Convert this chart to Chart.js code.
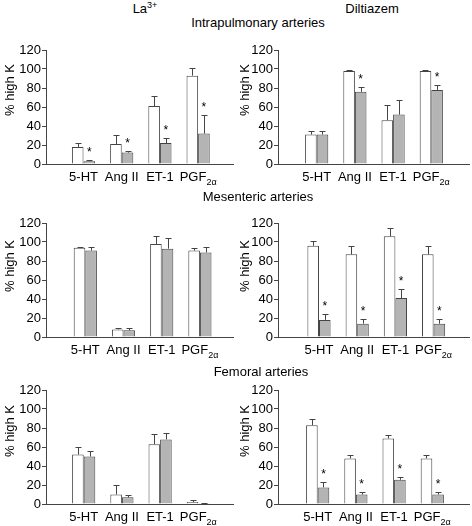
<!DOCTYPE html>
<html>
<head>
<meta charset="utf-8">
<script src="https://cdn.jsdelivr.net/npm/chart.js@4.4.0/dist/chart.umd.min.js"></script>
<style>
  body { margin: 0; background: #fff; }
  #page { position: relative; width: 472px; height: 526px; font-family: "Liberation Sans", Arial, sans-serif; color: #000; overflow: hidden; }
  .panel { position: absolute; }
  .txt { position: absolute; white-space: nowrap; font-size: 13px; line-height: 13px; transform: translateX(-50%); }
  .ylab { position: absolute; white-space: nowrap; font-size: 13px; line-height: 13px; transform: translate(-50%, -50%) rotate(-90deg); }
  .sup { font-size: 9px; position: relative; top: -5px; }
</style>
</head>
<body>
<div id="page"></div>

<script>
const categories = ["5-HT", "Ang II", "ET-1", "PGF"];
const categorySubs = ["", "", "", "2α"];

// Intrapulmonary arteries - La3+
const pulmLaControl = [18, 21, 61, 93];
const pulmLaControlErr = [4, 10, 11, 8];
const pulmLaDrug = [3, 12, 22, 32];
const pulmLaDrugErr = [1, 2, 5, 20];
const pulmLaSig = [true, true, true, true];

// Intrapulmonary arteries - Diltiazem
const pulmDilControl = [31, 98, 46, 98];
const pulmDilControlErr = [4, 0.5, 16, 0.5];
const pulmDilDrug = [31, 76, 52, 78];
const pulmDilDrugErr = [4, 5, 15, 5];
const pulmDilSig = [false, true, false, true];

// Mesenteric arteries - La3+
const mesLaControl = [94, 8, 98, 91];
const mesLaControlErr = [0.5, 2, 8, 2.5];
const mesLaDrug = [91, 7, 93, 89];
const mesLaDrugErr = [4, 2, 11, 6];
const mesLaSig = [false, false, false, false];

// Mesenteric arteries - Diltiazem
const mesDilControl = [96, 87, 106, 87];
const mesDilControlErr = [5, 9, 9, 9];
const mesDilDrug = [18, 14, 41, 14];
const mesDilDrugErr = [6, 5, 10, 5];
const mesDilSig = [true, true, true, true];

// Femoral arteries - La3+
const femLaControl = [52, 10, 63, 2];
const femLaControlErr = [8, 10, 11, 2.5];
const femLaDrug = [50, 7, 68, 0.7];
const femLaDrugErr = [6, 2, 7, 0.3];
const femLaSig = [false, false, false, false];

// Femoral arteries - Diltiazem
const femDilControl = [83, 48, 69, 48];
const femDilControlErr = [7, 4, 3.5, 4];
const femDilDrug = [17.5, 10, 25.5, 10];
const femDilDrugErr = [6, 3, 3, 3];
const femDilSig = [true, true, true, true];

const FONT = '"Liberation Sans", Arial, sans-serif';
const page = document.getElementById("page");

// draws the upward error bars and the significance stars
const errorBarPlugin = {
  id: "errorBars",
  afterDatasetsDraw(chart) {
    const ctx = chart.ctx;
    const yScale = chart.scales.y;
    ctx.save();
    ctx.strokeStyle = "#444";
    ctx.lineWidth = 1;
    ctx.fillStyle = "#000";
    ctx.font = "12px " + FONT;
    ctx.textAlign = "center";
    ctx.textBaseline = "alphabetic";
    chart.data.datasets.forEach((ds, d) => {
      const meta = chart.getDatasetMeta(d);
      meta.data.forEach((bar, i) => {
        const top = Math.round(yScale.getPixelForValue(ds.data[i].y + ds.errors[i])) + 0.5;
        const x = Math.round(bar.x) + 0.5;
        ctx.beginPath();
        ctx.moveTo(x, bar.y);
        ctx.lineTo(x, top);
        ctx.moveTo(x - 3, top);
        ctx.lineTo(x + 3, top);
        ctx.stroke();
        if (ds.stars && ds.stars[i]) {
          ctx.fillText("*", bar.x, top - 5);
        }
      });
    });
    ctx.restore();
  }
};

// category labels with the subscript on PGF
const xLabelPlugin = {
  id: "xLabels",
  afterDraw(chart) {
    const ctx = chart.ctx;
    const xs = chart.scales.x;
    const base = chart.chartArea.bottom + 16.5;
    ctx.save();
    ctx.fillStyle = "#000";
    ctx.textAlign = "left";
    ctx.textBaseline = "alphabetic";
    categories.forEach((name, i) => {
      const sub = categorySubs[i];
      ctx.font = "13px " + FONT;
      const w1 = ctx.measureText(name).width;
      ctx.font = "9px " + FONT;
      const w2 = sub ? ctx.measureText(sub).width : 0;
      const x = xs.getPixelForValue(i + 1) - (w1 + w2) / 2;
      ctx.font = "13px " + FONT;
      ctx.fillText(name, x, base);
      if (sub) {
        ctx.font = "9px " + FONT;
        ctx.fillText(sub, x + w1, base + 4);
      }
    });
    ctx.restore();
  }
};

function makePanel(p) {
  const canvas = document.createElement("canvas");
  canvas.className = "panel";
  canvas.width = 236;
  canvas.height = 154;
  canvas.style.left = p.left + "px";
  canvas.style.top = p.top + "px";
  canvas.style.width = "236px";
  canvas.style.height = "154px";
  page.appendChild(canvas);

  const toPoints = arr => arr.map((v, i) => ({ x: i + 1, y: v }));

  new Chart(canvas.getContext("2d"), {
    type: "bar",
    data: {
      datasets: [
        {
          data: toPoints(p.control),
          errors: p.controlErr,
          backgroundColor: "#ffffff",
          borderColor: "#444",
          borderWidth: 1
        },
        {
          data: toPoints(p.drug),
          errors: p.drugErr,
          stars: p.sig,
          backgroundColor: "#b4b4b4",
          borderColor: "#444",
          borderWidth: 1
        }
      ]
    },
    options: {
      responsive: false,
      animation: false,
      events: [],
      layout: { padding: { top: 10, right: 3, left: 0, bottom: 0 } },
      datasets: { bar: { barPercentage: 1, categoryPercentage: 0.607 } },
      plugins: { legend: { display: false }, tooltip: { enabled: false } },
      scales: {
        x: {
          type: "linear",
          offset: false,
          min: p.xMin,
          max: p.xMax,
          ticks: { display: false },
          grid: { display: false, offset: false },
          border: { color: "#444", width: 1 },
          afterBuildTicks: s => { s.ticks = [1, 2, 3, 4].map(v => ({ value: v })); },
          afterFit: s => { s.height = 30; }
        },
        y: {
          min: 0,
          max: 120,
          ticks: { stepSize: 20, color: "#000", padding: 1, font: { family: "Liberation Sans", size: 13 } },
          grid: { drawOnChartArea: false, drawTicks: true, tickLength: 4, color: "#444" },
          border: { color: "#444", width: 1 },
          afterFit: s => { s.width = p.axisWidth; }
        }
      }
    },
    plugins: [errorBarPlugin, xLabelPlugin]
  });
}

const rowTops = [40, 213, 380];

makePanel({ left: 0, top: rowTops[0], axisWidth: 46, xMin: 0.018, xMax: 4.913,
  control: pulmLaControl, controlErr: pulmLaControlErr, drug: pulmLaDrug, drugErr: pulmLaDrugErr, sig: pulmLaSig });
makePanel({ left: 236, top: rowTops[0], axisWidth: 42, xMin: -0.013, xMax: 4.987,
  control: pulmDilControl, controlErr: pulmDilControlErr, drug: pulmDilDrug, drugErr: pulmDilDrugErr, sig: pulmDilSig });
makePanel({ left: 0, top: rowTops[1], axisWidth: 46, xMin: -0.029, xMax: 4.866,
  control: mesLaControl, controlErr: mesLaControlErr, drug: mesLaDrug, drugErr: mesLaDrugErr, sig: mesLaSig });
makePanel({ left: 236, top: rowTops[1], axisWidth: 42, xMin: -0.073, xMax: 4.927,
  control: mesDilControl, controlErr: mesDilControlErr, drug: mesDilDrug, drugErr: mesDilDrugErr, sig: mesDilSig });
makePanel({ left: 0, top: rowTops[2], axisWidth: 46, xMin: 0.013, xMax: 4.908,
  control: femLaControl, controlErr: femLaControlErr, drug: femLaDrug, drugErr: femLaDrugErr, sig: femLaSig });
makePanel({ left: 236, top: rowTops[2], axisWidth: 42, xMin: -0.039, xMax: 4.961,
  control: femDilControl, controlErr: femDilControlErr, drug: femDilDrug, drugErr: femDilDrugErr, sig: femDilSig });

// titles and axis labels
function addText(cls, html, x, y) {
  const el = document.createElement("div");
  el.className = cls;
  el.innerHTML = html;
  el.style.left = x + "px";
  el.style.top = y + "px";
  page.appendChild(el);
}

addText("txt", 'La<span class="sup">3+</span>', 145, 2);
addText("txt", "Diltiazem", 372, 2);
addText("txt", "Intrapulmonary arteries", 258, 16);
addText("txt", "Mesenteric arteries", 258, 190);
addText("txt", "Femoral arteries", 261, 365);

const yLabelRows = [90, 266, 431];
yLabelRows.forEach(cy => {
  addText("ylab", "% high K", 9, cy);
  addText("ylab", "% high K", 244, cy);
});
</script>
</body>
</html>
